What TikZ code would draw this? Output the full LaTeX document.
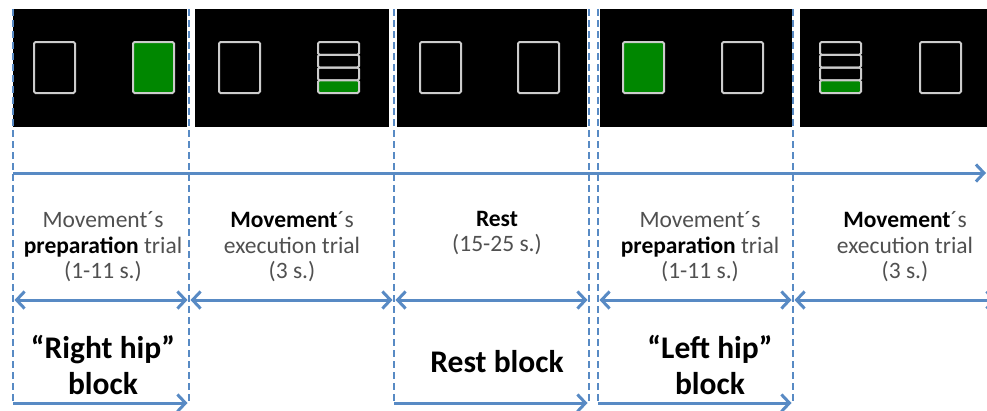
\documentclass[tikz,border=0pt]{standalone}
\usepackage{fontspec}
\setmainfont{Carlito}
\usetikzlibrary{arrows.meta}
\definecolor{tlblue}{RGB}{88,138,196}
\definecolor{cuegreen}{RGB}{0,135,0}
\definecolor{txtgray}{RGB}{80,80,80}
\newcommand{\keyword}[1]{\textcolor{black}{\bfseries #1}}
\tikzset{
  divider/.style={tlblue,line width=2.6pt,dash pattern=on 7pt off 4pt},
  span/.style={tlblue,line width=3pt,{Straight Barb[length=8pt,width=17pt]}-{Straight Barb[length=8pt,width=17pt]},shorten <=1.5pt,shorten >=1.5pt},
  blockspan/.style={tlblue,line width=3pt,-{Straight Barb[length=8pt,width=17pt]},shorten >=1.5pt},
  screenbox/.style={draw=white!80!black,line width=2pt,rounded corners=1.5pt},
  trialtext/.style={align=center,text=txtgray,font=\fontsize{23.5}{25.5}\selectfont},
  blocktext/.style={align=center,text=black,font=\fontsize{31.5}{36}\selectfont\bfseries}
}
\begin{document}
\begin{tikzpicture}[x=1pt,y=-1pt]
  \useasboundingbox (0,0) rectangle (987,410);
  % black screens
  \foreach \a\b in {13/187,195/389,397/587,600/792,800/990}{
    \fill[black] (\a,9) rectangle (\b,127);
  }
  % empty squares
  \foreach \x in {34,219,420,518,722,920}{
    \draw[screenbox] (\x,42) rectangle ++(41,51);
  }
  % green squares
  \foreach \x in {133,623}{
    \draw[screenbox,fill=cuegreen] (\x,42) rectangle ++(41,51);
  }
  % execution squares
  \foreach \x in {318,820}{
    \foreach \k in {0,1,2}{
      \draw[screenbox] (\x,{42+12.75*\k}) rectangle ++(41,12.75);
    }
    \draw[screenbox,fill=cuegreen] (\x,{42+12.75*3}) rectangle ++(41,12.75);
  }
  % dashed borders
  \foreach \x[count=\i] in {13,189,394,589,598,793}{
    \coordinate (top\i) at (\x,9);
    \coordinate (mid\i) at (\x,300);
    \coordinate (bot\i) at (\x,403);
    \draw[divider] (top\i) -- (bot\i);
  }
  \coordinate (mid7) at (998,300);
  % time line
  \coordinate (tlstart) at (13,173);
  \coordinate (tlend) at (986,173);
  \draw[tlblue,line width=3pt,-{Straight Barb[length=8pt,width=17pt]}] (tlstart) -- (tlend);
  % trials
  \draw[span] (mid1) -- (mid2);
  \draw[span] (mid2) -- (mid3);
  \draw[span] (mid3) -- (mid4);
  \draw[span] (mid5) -- (mid6);
  \draw[span] (mid6) -- (mid7);
  \node[trialtext] (prepR) at (103,247) {Movement´s\\\keyword{preparation} trial\\(1-11 s.)};
  \node[trialtext] (execR) at (292,247) {\keyword{Movement}´s\\execution trial\\(3 s.)};
  \node[trialtext] (rest) at (497,233) {\keyword{Rest}\\(15-25 s.)};
  \node[trialtext] (prepL) at (700,247) {Movement´s\\\keyword{preparation} trial\\(1-11 s.)};
  \node[trialtext] (execL) at (905,247) {\keyword{Movement}´s\\execution trial\\(3 s.)};
  % blocks
  \draw[blockspan] (bot1) -- (bot2);
  \draw[blockspan] (bot3) -- (bot4);
  \draw[blockspan] (bot5) -- (bot6);
  \node[blocktext] (rightblock) at (103,365) {“Right hip”\\block};
  \node[blocktext] (restblock) at (497,362) {Rest block};
  \node[blocktext] (leftblock) at (710,365) {“Left hip”\\block};
\end{tikzpicture}
\end{document}
